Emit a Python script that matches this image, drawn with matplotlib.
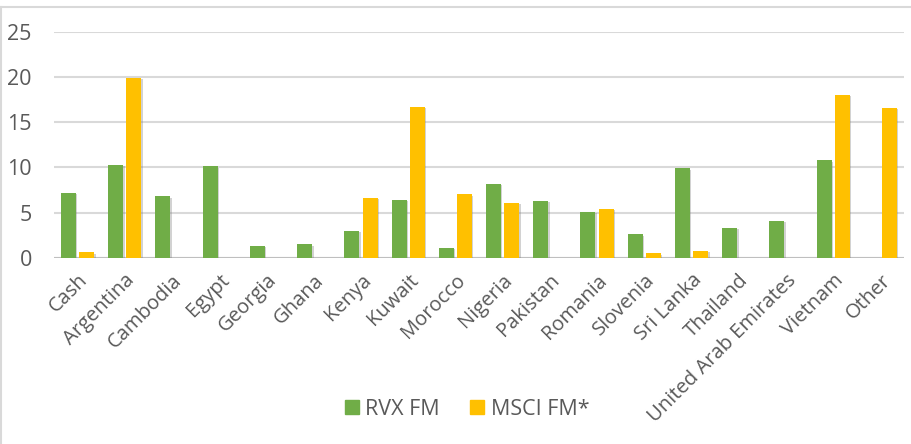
import matplotlib.pyplot as plt
import matplotlib.patheffects as pe
import numpy as np

categories = ['Cash', 'Argentina', 'Cambodia', 'Egypt', 'Georgia', 'Ghana', 'Kenya',
              'Kuwait', 'Morocco', 'Nigeria', 'Pakistan', 'Romania', 'Slovenia',
              'Sri Lanka', 'Thailand', 'United Arab Emirates', 'Vietnam', 'Other']
rvx_fm = [7.2, 10.3, 6.8, 10.1, 1.3, 1.5, 3.0, 6.4, 1.1, 8.2, 6.3, 5.1, 2.6,
          9.9, 3.3, 4.1, 10.8, 0]
msci_fm = [0.6, 19.9, 0, 0, 0, 0, 6.6, 16.7, 7.0, 6.1, 0, 5.4, 0.5,
           0.8, 0, 0, 18.0, 16.6]

green = '#70AD47'
yellow = '#FFC000'
text_col = '#595959'
grid_col = '#D9D9D9'

fig = plt.figure(figsize=(9.11, 4.44), dpi=100)
ax = fig.add_axes([54 / 911, 1 - 257.8 / 444, 850 / 911, (257.8 - 31.7) / 444])

x = np.arange(len(categories))
w = 0.318
shadow = [pe.SimplePatchShadow(offset=(1, -1), shadow_rgbFace='#7f7f7f', alpha=0.35), pe.Normal()]
# zero-valued bars are simply not drawn
for xi, v in zip(x, rvx_fm):
    if v > 0:
        ax.bar(xi - 0.193, v, w, color=green, zorder=3, path_effects=shadow)
for xi, v in zip(x, msci_fm):
    if v > 0:
        ax.bar(xi + 0.193, v, w, color=yellow, zorder=3, path_effects=shadow)

ax.set_xlim(-0.5, len(categories) - 0.5)
ax.set_ylim(0, 25)
ax.set_yticks([0, 5, 10, 15, 20, 25])
ax.yaxis.grid(True, color=grid_col, linewidth=1.5, zorder=0)
ax.axhline(0, color='#BFBFBF', linewidth=1.5, zorder=2)
for s in ax.spines.values():
    s.set_visible(False)

ax.set_xticks(x)
ax.set_xticklabels(categories, rotation=45, ha='right', rotation_mode='anchor',
                   fontsize=14.5, color=text_col, family='Open Sans')
ax.tick_params(axis='x', length=0, pad=9)
ax.tick_params(axis='y', length=0, pad=16, labelsize=15.5, labelcolor=text_col)
for lab in ax.get_yticklabels():
    lab.set_family('Open Sans')

handles = [plt.Rectangle((0, 0), 1, 1, color=green),
           plt.Rectangle((0, 0), 1, 1, color=yellow)]
fig.legend(handles, ['RVX FM', 'MSCI FM*'], loc='center', bbox_to_anchor=(467 / 911, 1 - 409 / 444),
           ncol=2, frameon=False, handlelength=0.65, handleheight=0.65, handletextpad=0.3,
           columnspacing=1.4, prop={'family': 'Open Sans', 'size': 15.5}, labelcolor=text_col)

# chart border
fig.add_artist(plt.Line2D([1 / 911, 1 / 911], [0, 1 - 7 / 444], color=grid_col, linewidth=1.5))
fig.add_artist(plt.Line2D([1 / 911, 1], [1 - 7 / 444, 1 - 7 / 444], color=grid_col, linewidth=1.5))

fig.savefig('out.png', dpi=100)
